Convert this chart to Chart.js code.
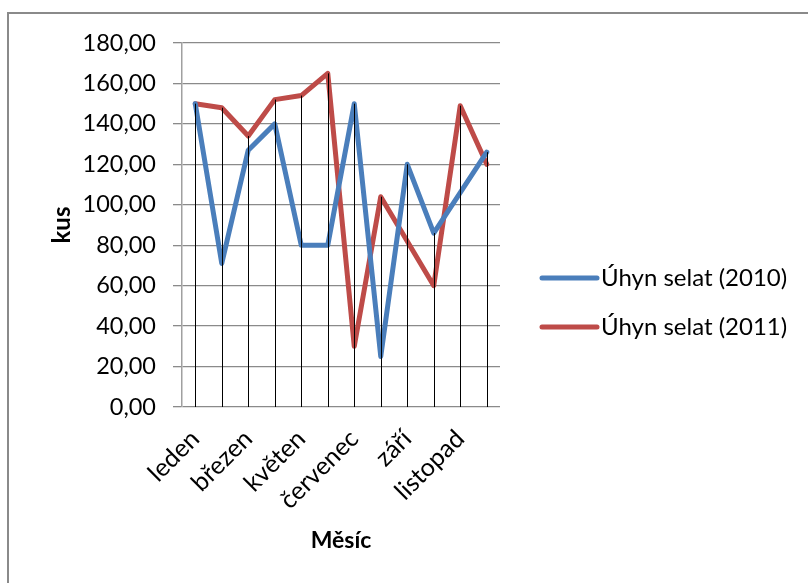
<!DOCTYPE html>
<html lang="cs">
<head>
<meta charset="utf-8">
<title>Úhyn selat</title>
<script src="https://cdn.jsdelivr.net/npm/chart.js@4/dist/chart.umd.min.js"></script>
<style>
  html, body { margin: 0; padding: 0; background: #fff; overflow: hidden; }
  #wrap { position: relative; width: 808px; height: 583px; }
  #frame {
    position: absolute; left: 7px; top: 12px; width: 820px; height: 600px;
    border: 2px solid #8a8a8a; box-sizing: border-box; pointer-events: none;
  }
  canvas { position: absolute; left: 0; top: 0; }
</style>
</head>
<body>
<div id="wrap">
  <canvas id="chart" width="808" height="583"></canvas>
  <div id="frame"></div>
</div>
<script>
// Months of the year (category axis)
const months = ['leden', 'únor', 'březen', 'duben', 'květen', 'červen',
                'červenec', 'srpen', 'září', 'říjen', 'listopad', 'prosinec'];
// Only every other month is labelled on the axis
const shownMonths = ['leden', 'březen', 'květen', 'červenec', 'září', 'listopad'];

// Piglet losses per month (pieces)
const losses2010 = [150, 71, 127, 140, 80, 80, 150, 25, 120, 86, 106, 126];
const losses2011 = [150, 148, 134, 152, 154, 165, 30, 104, 82, 60, 149, 120];

const seriesNames = ['Úhyn selat (2010)', 'Úhyn selat (2011)'];
const yTickLabels = ['0,00', '20,00', '40,00', '60,00', '80,00', '100,00',
                     '120,00', '140,00', '160,00', '180,00'];

const FONT = "Lato, 'Open Sans', 'DejaVu Sans', sans-serif";

// Vertical drop lines from the higher of the two series down to the axis
const dropLines = {
  id: 'dropLines',
  afterDatasetsDraw(chart) {
    const { ctx, scales: { x, y } } = chart;
    const sets = chart.data.datasets;
    ctx.save();
    ctx.strokeStyle = '#000';
    ctx.lineWidth = 1;
    chart.data.labels.forEach((_, i) => {
      const top = Math.max(...sets.map(s => s.data[i]));
      const px = Math.round(x.getPixelForValue(i)) + 0.5;
      ctx.beginPath();
      ctx.moveTo(px, y.getPixelForValue(top));
      ctx.lineTo(px, y.getPixelForValue(0));
      ctx.stroke();
    });
    ctx.restore();
  }
};

// Legend drawn to the right of the plot
const sideLegend = {
  id: 'sideLegend',
  afterDraw(chart) {
    const { ctx } = chart;
    const x0 = 542, lineLen = 55, gap = 4, yStart = 278, step = 49;
    ctx.save();
    ctx.font = '24px ' + FONT;
    ctx.textBaseline = 'middle';
    ctx.textAlign = 'left';
    chart.data.datasets.forEach((ds, i) => {
      const yy = yStart + i * step;
      ctx.strokeStyle = ds.borderColor;
      ctx.lineWidth = 5;
      ctx.lineCap = 'round';
      ctx.beginPath();
      ctx.moveTo(x0, yy);
      ctx.lineTo(x0 + lineLen, yy);
      ctx.stroke();
      ctx.fillStyle = '#000';
      ctx.fillText(ds.label, x0 + lineLen + gap, yy);
    });
    ctx.restore();
  }
};

const lineStyle = {
  borderWidth: 5,
  pointRadius: 0,
  pointHoverRadius: 0,
  tension: 0,
  fill: false,
  borderJoinStyle: 'round',
  borderCapStyle: 'round'
};

new Chart(document.getElementById('chart'), {
  type: 'line',
  data: {
    labels: months,
    datasets: [
      Object.assign({ label: seriesNames[0], data: losses2010, borderColor: '#4a7ebb' }, lineStyle),
      Object.assign({ label: seriesNames[1], data: losses2011, borderColor: '#be4b48' }, lineStyle)
    ]
  },
  options: {
    responsive: false,
    animation: false,
    events: [],
    layout: { padding: { left: 0, top: 43, right: 308, bottom: 0 } },
    plugins: {
      legend: { display: false },
      tooltip: { enabled: false }
    },
    scales: {
      x: {
        offset: true,
        grid: { display: false, drawTicks: false },
        border: { display: false },
        ticks: {
          autoSkip: false,
          maxRotation: 45,
          minRotation: 45,
          padding: 17,
          color: '#000',
          font: { family: FONT, size: 25 },
          callback(value) {
            const name = this.getLabelForValue(value);
            return shownMonths.includes(name) ? name : '';
          }
        },
        title: {
          display: true,
          text: 'Měsíc',
          color: '#000',
          font: { family: FONT, size: 23, weight: 'bold' },
          padding: { top: 0, bottom: 29 }
        },
        afterFit(scale) { scale.height = 176; }
      },
      y: {
        min: 0,
        max: 180,
        ticks: {
          stepSize: 20,
          padding: 17,
          color: '#000',
          font: { family: FONT, size: 23.5 },
          callback(value, index) { return yTickLabels[index]; }
        },
        grid: { color: '#8a8a8a', lineWidth: 1.3, tickLength: 9 },
        border: { display: true, color: '#a0a0a0', width: 1.5 },
        title: {
          display: true,
          text: 'kus',
          color: '#000',
          font: { family: FONT, size: 24, weight: 'bold' },
          padding: { top: 48, bottom: 0 }
        },
        afterFit(scale) { scale.width = 182; }
      }
    }
  },
  plugins: [dropLines, sideLegend]
});
</script>
</body>
</html>
